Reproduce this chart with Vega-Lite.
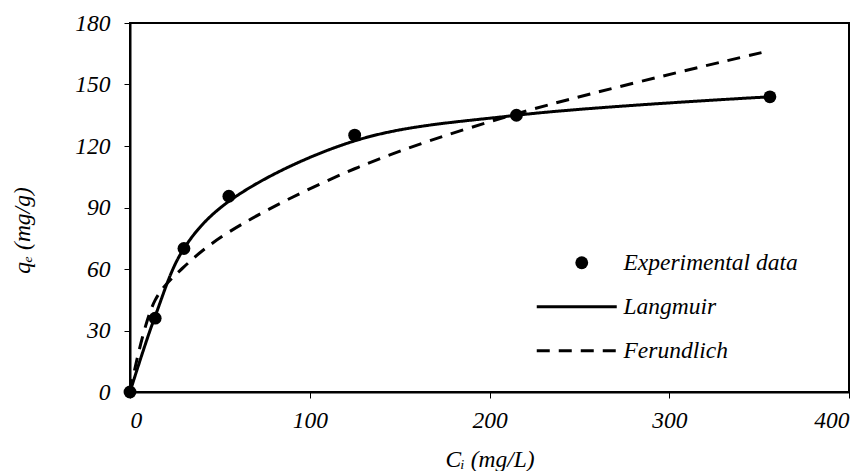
{
  "$schema": "https://vega.github.io/schema/vega-lite/v6.json",
  "width": 719,
  "height": 369,
  "autosize": "none",
  "padding": {"left": 130, "top": 23, "right": 19, "bottom": 79},
  "background": "white",
  "config": {
    "font": "Liberation Serif, Times New Roman, DejaVu Serif, serif",
    "view": {"stroke": "black", "strokeWidth": 2},
    "axis": {
      "grid": false,
      "domainColor": "black",
      "domainWidth": 2,
      "tickColor": "black",
      "tickWidth": 1,
      "tickSize": 6,
      "labelFont": "Liberation Serif, Times New Roman, DejaVu Serif, serif",
      "labelFontStyle": "italic",
      "labelFontSize": 23.5,
      "labelColor": "black",
      "titleFont": "Liberation Serif, Times New Roman, DejaVu Serif, serif",
      "titleFontStyle": "italic",
      "titleFontWeight": "normal",
      "titleFontSize": 23.5,
      "titleColor": "black"
    }
  },
  "datasets": {
    "exp": [
      {"series": "Experimental data", "C": 0, "q": 0},
      {"series": "Experimental data", "C": 14, "q": 36},
      {"series": "Experimental data", "C": 30, "q": 70},
      {"series": "Experimental data", "C": 55, "q": 95.5},
      {"series": "Experimental data", "C": 125, "q": 125.3},
      {"series": "Experimental data", "C": 215, "q": 135},
      {"series": "Experimental data", "C": 356, "q": 144}
    ],
    "fits": [
      {"series": "Langmuir", "C": 0, "q": 0},
      {"series": "Langmuir", "C": 14, "q": 37},
      {"series": "Langmuir", "C": 30, "q": 70},
      {"series": "Langmuir", "C": 55, "q": 93},
      {"series": "Langmuir", "C": 125, "q": 122.5},
      {"series": "Langmuir", "C": 215, "q": 135},
      {"series": "Langmuir", "C": 356, "q": 144},
      {"series": "Ferundlich", "C": 0, "q": 0},
      {"series": "Ferundlich", "C": 14, "q": 44.8},
      {"series": "Ferundlich", "C": 30, "q": 61},
      {"series": "Ferundlich", "C": 55, "q": 78},
      {"series": "Ferundlich", "C": 125, "q": 108.9},
      {"series": "Ferundlich", "C": 215, "q": 135.7},
      {"series": "Ferundlich", "C": 356, "q": 166.5}
    ]
  },
  "encoding": {
    "x": {
      "field": "C", "type": "quantitative",
      "scale": {"domain": [0, 400], "nice": false, "zero": true},
      "axis": {"values": [0, 100, 200, 300, 400], "labelPadding": 10, "title": "Cᵢ (mg/L)", "titlePadding": 16}
    },
    "y": {
      "field": "q", "type": "quantitative",
      "scale": {"domain": [0, 180], "nice": false},
      "axis": {"values": [0, 30, 60, 90, 120, 150, 180], "labelPadding": 14, "title": "qₑ (mg/g)", "titleX": -96, "titleY": 207}
    },
    "color": {
      "field": "series", "type": "nominal",
      "scale": {"domain": ["Experimental data", "Langmuir", "Ferundlich"], "range": ["black", "black", "black"]},
      "legend": {
        "title": null,
        "orient": "none",
        "legendX": 440,
        "legendY": 228,
        "padding": 0,
        "rowPadding": 19,
        "labelFont": "Liberation Serif, Times New Roman, DejaVu Serif, serif",
        "labelFontStyle": "italic",
        "labelFontSize": 23.5,
        "labelColor": "black",
        "labelLimit": 0,
        "labelOffset": 30,
        "symbolSize": 400,
        "encode": {
          "symbols": {
            "update": {
              "shape": {"signal": "datum.value === 'Experimental data' ? 'circle' : 'M-4.5,0H3.5'"},
              "size": {"signal": "datum.value === 'Experimental data' ? 165 : 400"},
              "fill": {"signal": "datum.value === 'Experimental data' ? 'black' : 'transparent'"},
              "stroke": {"value": "black"},
              "strokeWidth": {"signal": "datum.value === 'Experimental data' ? 0 : 3"},
              "strokeDash": {"signal": "datum.value === 'Ferundlich' ? [13, 9] : [1, 0]"},
              "opacity": {"value": 1}
            }
          }
        }
      }
    }
  },
  "layer": [
    {
      "data": {"name": "fits"},
      "mark": {"type": "line", "interpolate": "catmull-rom", "strokeWidth": 3},
      "encoding": {
        "strokeDash": {
          "field": "series", "type": "nominal",
          "scale": {"domain": ["Langmuir", "Ferundlich"], "range": [[1, 0], [13, 9]]},
          "legend": null
        }
      }
    },
    {
      "data": {"name": "exp"},
      "mark": {"type": "circle", "size": 165, "opacity": 1}
    }
  ]
}
